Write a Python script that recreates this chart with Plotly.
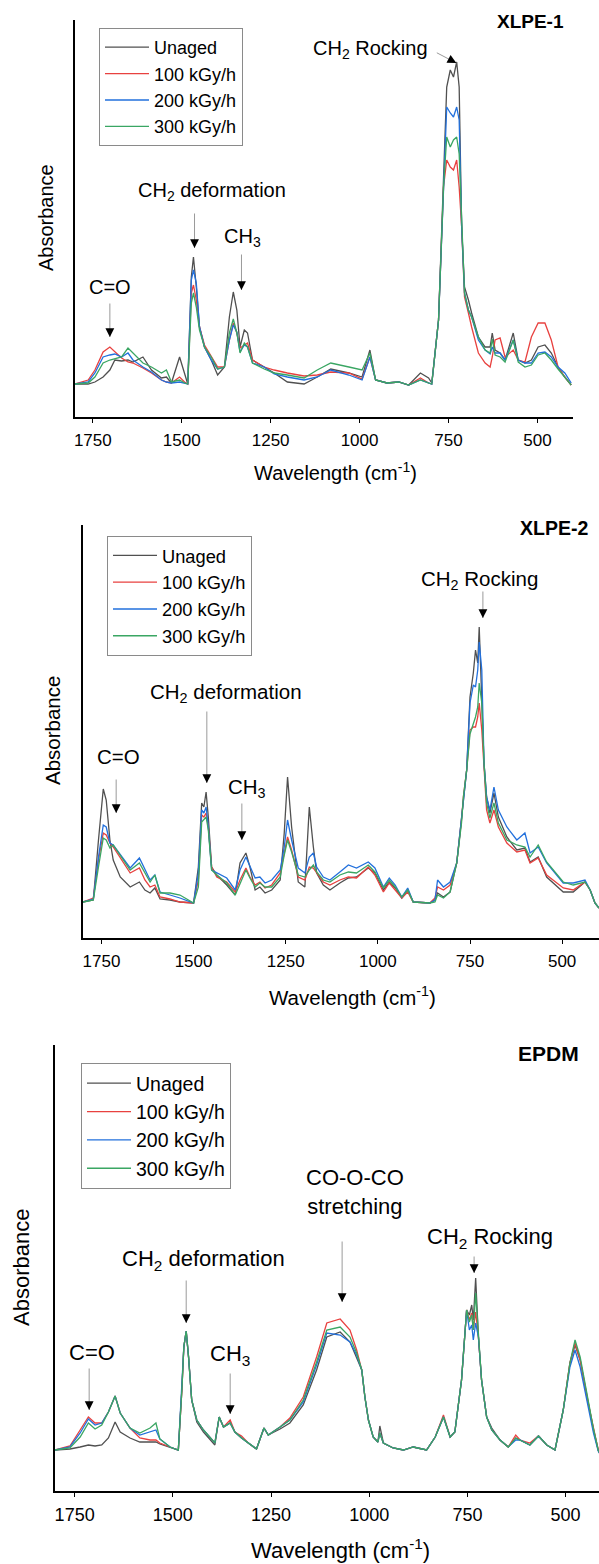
import plotly.graph_objects as go

# ---------------- data (absorbance in arbitrary units) ----------------
series_names = ["Unaged", "100 kGy/h", "200 kGy/h", "300 kGy/h"]
series_colors = ["#505050", "#e8413f", "#2270dc", "#3aa663"]

xlpe1_wn = [1800, 1763, 1744, 1721, 1702, 1688, 1669, 1651, 1637, 1609,
            1585, 1557, 1543, 1529, 1506, 1492, 1483, 1473, 1467, 1459,
            1450, 1436, 1417, 1399, 1380, 1366, 1355, 1345, 1336, 1324,
            1315, 1301, 1268, 1240, 1203, 1156, 1119, 1081, 1030, 993,
            971, 955, 923, 890, 862, 829, 806, 797, 778, 764,
            755, 745, 736, 727, 720, 713, 705, 694, 685, 666,
            647, 633, 627, 619, 605, 591, 568, 554, 535, 517,
            498, 479, 461, 442, 423, 405]
xlpe1_unaged = [33, 33, 35, 40, 47, 57, 56, 57, 55, 60,
                47, 39, 40, 34, 60, 43, 33, 140, 160, 130,
                90, 70, 57, 42, 50, 100, 125, 107, 70, 87,
                84, 57, 50, 44, 35, 33, 40, 48, 44, 40,
                67, 37, 34, 35, 32, 44, 39, 34, 97, 230,
                330, 347, 340, 355, 330, 190, 130, 117, 104, 80,
                70, 70, 84, 67, 64, 57, 84, 57, 54, 57,
                70, 72, 64, 50, 40, 32]
xlpe1_100 = [33, 37, 47, 65, 70, 65, 59, 55, 54, 49,
             44, 37, 35, 34, 40, 35, 33, 124, 132, 117,
             90, 72, 60, 50, 50, 77, 94, 84, 69, 72,
             74, 57, 50, 47, 44, 41, 42, 45, 44, 38,
             60, 37, 34, 35, 32, 39, 34, 33, 97, 230,
             257, 250, 247, 257, 230, 190, 120, 104, 90, 64,
             54, 50, 60, 77, 79, 60, 67, 57, 55, 80,
             94, 94, 77, 50, 40, 32]
xlpe1_200 = [33, 35, 44, 60, 62, 63, 60, 64, 57, 50,
             45, 37, 35, 34, 35, 34, 33, 137, 147, 134,
             90, 70, 57, 48, 50, 77, 92, 85, 65, 72,
             70, 54, 50, 43, 40, 37, 40, 47, 42, 37,
             60, 37, 34, 35, 32, 37, 34, 33, 97, 230,
             310, 304, 300, 310, 297, 190, 124, 107, 100, 77,
             67, 63, 70, 64, 64, 57, 77, 57, 54, 54,
             64, 65, 60, 50, 44, 34]
xlpe1_300 = [33, 34, 40, 54, 57, 58, 60, 69, 64, 54,
             50, 44, 47, 35, 37, 34, 33, 114, 124, 110,
             87, 70, 60, 48, 50, 84, 98, 84, 64, 74,
             70, 54, 48, 44, 42, 39, 47, 54, 50, 47,
             64, 37, 34, 35, 32, 37, 34, 33, 97, 230,
             280, 270, 277, 280, 263, 190, 124, 107, 100, 80,
             67, 64, 78, 62, 60, 55, 77, 55, 50, 52,
             62, 64, 57, 48, 40, 32]

xlpe2_wn = [1800, 1772, 1758, 1745, 1737, 1727, 1718, 1699, 1672, 1647,
            1632, 1618, 1605, 1591, 1564, 1537, 1500, 1487, 1478, 1472,
            1466, 1460, 1451, 1437, 1410, 1387, 1374, 1358, 1347, 1333,
            1320, 1306, 1288, 1265, 1254, 1245, 1234, 1216, 1198, 1186,
            1175, 1166, 1148, 1130, 1103, 1080, 1058, 1026, 1008, 985,
            969, 953, 935, 919, 904, 859, 845, 838, 822, 804,
            786, 773, 768, 759, 750, 741, 735, 729, 725, 718,
            712, 705, 696, 685, 673, 650, 623, 601, 587, 565,
            542, 497, 470, 438, 424, 411, 400]
xlpe2_unaged = [36, 38, 98, 149, 138, 98, 78, 61, 51, 56,
                48, 45, 50, 39, 38, 36, 35, 71, 135, 131,
                146, 121, 71, 63, 53, 43, 75, 85, 71, 48,
                51, 45, 48, 58, 105, 161, 111, 56, 51, 131,
                91, 65, 53, 48, 55, 60, 61, 70, 65, 48,
                56, 50, 40, 48, 36, 35, 38, 45, 41, 46,
                75, 118, 141, 168, 241, 265, 288, 275, 311, 235,
                175, 141, 125, 145, 121, 101, 88, 90, 76, 81,
                61, 46, 46, 56, 48, 35, 30]
xlpe2_100 = [36, 40, 78, 105, 103, 95, 91, 80, 65, 70,
             58, 51, 53, 41, 39, 36, 35, 58, 123, 121,
             125, 111, 71, 61, 56, 46, 58, 70, 61, 53,
             56, 50, 53, 65, 85, 101, 88, 61, 58, 71,
             70, 65, 56, 53, 58, 61, 60, 71, 63, 46,
             55, 48, 40, 46, 36, 35, 40, 51, 48, 53,
             75, 118, 141, 168, 208, 211, 211, 221, 235, 208,
             175, 128, 115, 128, 111, 95, 86, 88, 75, 80,
             63, 50, 48, 56, 48, 35, 30]
xlpe2_200 = [36, 39, 81, 113, 111, 95, 93, 83, 70, 80,
             68, 58, 63, 46, 43, 40, 35, 65, 128, 125,
             131, 111, 68, 65, 60, 48, 68, 81, 71, 60,
             61, 55, 58, 68, 91, 118, 98, 70, 65, 81,
             85, 71, 61, 58, 66, 73, 70, 76, 70, 51,
             60, 53, 41, 50, 36, 35, 38, 58, 51, 56,
             75, 118, 141, 168, 235, 253, 251, 268, 296, 268,
             175, 141, 128, 151, 128, 111, 98, 105, 85, 91,
             75, 55, 55, 58, 48, 35, 30]
xlpe2_300 = [36, 38, 71, 100, 98, 90, 93, 83, 68, 75,
             65, 56, 63, 45, 45, 43, 35, 51, 116, 118,
             121, 108, 68, 63, 55, 43, 55, 68, 60, 51,
             55, 51, 51, 61, 83, 98, 86, 63, 61, 68,
             73, 66, 58, 56, 63, 66, 65, 73, 66, 50,
             58, 51, 41, 48, 36, 35, 36, 43, 40, 46,
             75, 115, 141, 168, 204, 215, 221, 231, 255, 235,
             175, 135, 120, 135, 115, 98, 93, 91, 81, 93,
             76, 56, 53, 56, 48, 35, 30]

epdm_wn = [1800, 1762, 1736, 1715, 1698, 1681, 1664, 1647, 1634, 1609,
           1584, 1558, 1543, 1533, 1507, 1486, 1477, 1472, 1466, 1460,
           1452, 1439, 1422, 1405, 1393, 1382, 1371, 1354, 1342, 1325,
           1308, 1287, 1268, 1257, 1227, 1202, 1168, 1134, 1108, 1074,
           1049, 1032, 1019, 1011, 1002, 990, 978, 973, 964, 939,
           913, 888, 854, 832, 811, 794, 782, 765, 752, 745,
           739, 735, 729, 722, 714, 701, 688, 667, 646, 627,
           616, 591, 569, 548, 527, 506, 489, 476, 463, 446,
           429, 417, 410]
epdm_unaged = [41, 42, 44, 46, 45, 46, 53, 69, 59, 53,
               49, 49, 49, 47, 44, 41, 101, 144, 160, 134,
               91, 69, 59, 51, 46, 74, 64, 68, 59, 53,
               48, 42, 63, 56, 62, 68, 86, 121, 154, 159,
               149, 134, 121, 94, 71, 54, 49, 65, 48, 43,
               41, 44, 41, 54, 74, 54, 59, 111, 181, 176,
               186, 171, 213, 154, 111, 74, 63, 51, 44, 53,
               51, 46, 55, 46, 41, 81, 128, 146, 131, 94,
               61, 41, 35]
epdm_100 = [41, 45, 61, 74, 68, 68, 79, 95, 78, 63,
            53, 51, 51, 48, 44, 41, 101, 144, 160, 134,
            91, 71, 61, 54, 48, 74, 64, 71, 59, 55,
            48, 42, 63, 56, 64, 73, 94, 134, 168, 172,
            161, 141, 121, 94, 71, 54, 49, 58, 48, 43,
            41, 44, 41, 54, 76, 54, 59, 111, 181, 171,
            178, 161, 179, 154, 111, 74, 61, 51, 44, 56,
            51, 48, 55, 46, 41, 81, 128, 148, 131, 94,
            61, 41, 35]
epdm_200 = [41, 44, 58, 72, 66, 68, 79, 95, 78, 63,
            56, 59, 61, 52, 44, 41, 101, 144, 160, 134,
            91, 71, 61, 54, 48, 74, 64, 68, 59, 53,
            48, 42, 63, 56, 64, 71, 89, 126, 158, 156,
            149, 136, 121, 94, 71, 54, 49, 58, 48, 43,
            41, 44, 41, 54, 74, 54, 59, 111, 181, 161,
            166, 151, 168, 154, 111, 74, 61, 51, 44, 51,
            51, 46, 55, 46, 41, 81, 124, 141, 124, 90,
            58, 40, 35]
epdm_300 = [41, 43, 54, 68, 62, 66, 79, 95, 78, 63,
            58, 63, 68, 52, 44, 41, 101, 144, 160, 134,
            91, 71, 61, 54, 48, 74, 64, 68, 59, 53,
            48, 42, 63, 56, 64, 71, 91, 129, 161, 164,
            154, 138, 121, 94, 71, 54, 49, 58, 48, 43,
            41, 44, 41, 54, 74, 54, 59, 111, 181, 169,
            176, 161, 198, 154, 111, 74, 61, 51, 44, 53,
            51, 46, 55, 46, 41, 81, 128, 151, 134, 96,
            62, 41, 35]

tick_values = [1750, 1500, 1250, 1000, 750, 500]
panel_titles = ["XLPE-1", "XLPE-2", "EPDM"]

# ---------------- layout helpers ----------------
W, H = 599, 1564
FONT = "Arial, Liberation Sans, sans-serif"


def px(x):
    return x / W


def py(y):
    return 1 - y / H


fig = go.Figure()

panels = [
    (xlpe1_wn, [xlpe1_unaged, xlpe1_100, xlpe1_200, xlpe1_300], "x", "y", "legend"),
    (xlpe2_wn, [xlpe2_unaged, xlpe2_100, xlpe2_200, xlpe2_300], "x2", "y2", "legend2"),
    (epdm_wn, [epdm_unaged, epdm_100, epdm_200, epdm_300], "x3", "y3", "legend3"),
]
for wn, ys, xa, ya, lg in panels:
    for name, col, yv in zip(series_names, series_colors, ys):
        fig.add_trace(go.Scatter(x=wn, y=yv, mode="lines", name=name,
                                 line=dict(color=col, width=1.3),
                                 xaxis=xa, yaxis=ya, legend=lg))

# panel geometry (pixels): left, right, top, bottom, x range end, y max
geo = [
    dict(l=75, r=573, t=20, b=417, xend=400, ymax=397, tf=17),
    dict(l=83, r=599, t=525, b=938, xend=400, ymax=413, tf=17),
    dict(l=55, r=599, t=1045, b=1491, xend=415, ymax=446, tf=18),
]

axes = {}
for i, g in enumerate(geo):
    sfx = "" if i == 0 else str(i + 1)
    axes["xaxis" + sfx] = dict(
        domain=[px(g["l"]), px(g["r"])], anchor="y" + sfx,
        range=[1800, g["xend"]], tickvals=tick_values,
        ticks="outside", ticklen=4, tickwidth=1.2, tickcolor="black",
        showline=True, linecolor="black", linewidth=1.6,
        showgrid=False, zeroline=False,
        tickfont=dict(size=g["tf"], family=FONT, color="black"),
        ticklabelstandoff=3,
    )
    axes["yaxis" + sfx] = dict(
        domain=[py(g["b"]), py(g["t"])], anchor="x" + sfx,
        range=[0, g["ymax"]], showline=True, linecolor="black", linewidth=1.6,
        showticklabels=False, ticks="", showgrid=False, zeroline=False,
    )

ann = []


def label(xr, yr, x, y, text, size):
    ann.append(dict(xref=xr, yref=yr, x=x, y=y, text=text, showarrow=False,
                    font=dict(size=size, family=FONT, color="black"),
                    xanchor="center", yanchor="middle"))


def arrow(xr, yr, x, y, ax, ay):
    ann.append(dict(xref=xr, yref=yr, x=x, y=y, ax=ax, ay=ay, text="",
                    showarrow=True, arrowhead=0, arrowwidth=1, arrowcolor="#9a9a9a"))
    n = (ax * ax + ay * ay) ** 0.5
    ann.append(dict(xref=xr, yref=yr, x=x, y=y, ax=ax / n * 9, ay=ay / n * 9, text="",
                    showarrow=True, arrowhead=2, arrowsize=1.6, arrowwidth=1.1,
                    arrowcolor="black"))


# panel 1
label("x", "y", 1702, 130, "C=O", 20)
arrow("x", "y", 1702, 80, 0, -35)
label("x", "y", 1414, 226, "CH<sub>2</sub> deformation", 20)
arrow("x", "y", 1464, 169, 0, -36)
label("x", "y", 1330, 180, "CH<sub>3</sub>", 20)
arrow("x", "y", 1332, 127, 0, -37)
label("x", "y", 968, 368, "CH<sub>2</sub> Rocking", 20)
arrow("x", "y", 728, 354, -21, -11)

# panel 2
label("x2", "y2", 1705, 182, "C=O", 20.5)
arrow("x2", "y2", 1710, 125, 0, -35)
label("x2", "y2", 1412, 245, "CH<sub>2</sub> deformation", 20.5)
arrow("x2", "y2", 1464, 155, 0, -73)
label("x2", "y2", 1355, 150, "CH<sub>3</sub>", 20.5)
arrow("x2", "y2", 1369, 98, 0, -38)
label("x2", "y2", 723, 358, "CH<sub>2</sub> Rocking", 20.5)
arrow("x2", "y2", 715, 320, 0, -28)

# panel 3
label("x3", "y3", 1706, 139, "C=O", 22)
arrow("x3", "y3", 1713, 81, 0, -43)
label("x3", "y3", 1354, 136, "CH<sub>3</sub>", 22)
arrow("x3", "y3", 1354, 77, 0, -42)
label("x3", "y3", 1421, 231, "CH<sub>2</sub> deformation", 22)
arrow("x3", "y3", 1466, 168, 0, -44)
label("x3", "y3", 1036, 299, "CO-O-CO<br>stretching", 22)
arrow("x3", "y3", 1069, 189, 0, -62)
label("x3", "y3", 692, 253, "CH<sub>2</sub> Rocking", 22)
arrow("x3", "y3", 733, 218, 0, -18)

# panel titles and axis titles (paper coords)
for (tx, ty, fs), t in zip([(530, 22, 19), (554, 528, 19.5), (548, 1053, 21)], panel_titles):
    label("paper", "paper", px(tx), py(ty), "<b>%s</b>" % t, fs)

for (xx, yy, fs) in [(335, 472, 20), (352, 996, 20.5), (341, 1549, 22)]:
    label("paper", "paper", px(xx), py(yy), "Wavelength (cm<sup>-1</sup>)", fs)

for (xx, yy, fs) in [(46, 218, 20), (52, 731, 20.5), (21, 1268, 22)]:
    ann.append(dict(xref="paper", yref="paper", x=px(xx), y=py(yy), text="Absorbance",
                    showarrow=False, textangle=-90,
                    font=dict(size=fs, family=FONT, color="black"),
                    xanchor="center", yanchor="middle"))

legends = {}
for key, (lx, ly, fs) in zip(["legend", "legend2", "legend3"],
                             [(99, 28, 18), (107, 536, 18.3), (81, 1063, 19.5)]):
    legends[key] = dict(x=px(lx), y=py(ly), xanchor="left", yanchor="top",
                        bordercolor="#8a8a8a", borderwidth=1, bgcolor="white",
                        font=dict(size=fs, family=FONT, color="black"),
                        tracegroupgap=0, itemwidth=44)

fig.update_layout(
    width=W, height=H, margin=dict(l=0, r=0, t=0, b=0),
    paper_bgcolor="white", plot_bgcolor="white",
    font=dict(family=FONT, color="black"),
    annotations=ann, showlegend=True, **axes, **legends,
)

fig.write_html("out.html")
